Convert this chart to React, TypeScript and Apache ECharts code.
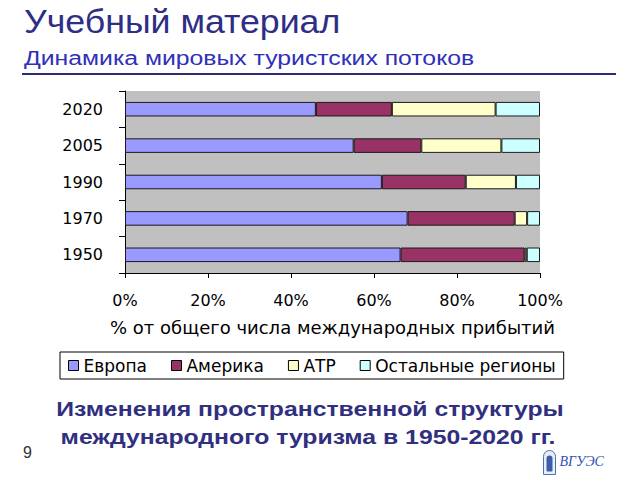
import React, { useEffect, useRef } from "react";
import * as echarts from "echarts";

const years = ["1950", "1970", "1990", "2005", "2020"];
const seriesNames = ["Европа", "Америка", "АТР", "Остальные регионы"];
const europe = [66.4, 68.1, 61.9, 55.1, 46.0];
const america = [29.9, 25.8, 20.2, 16.3, 18.3];
const apac = [0.5, 3.0, 12.1, 19.3, 25.0];
const others = [3.2, 3.1, 5.8, 9.3, 10.7];
const colors = ["#9999FF", "#993366", "#FFFFCC", "#CCFFFF"];

const titleText = "Учебный материал";
const subtitleText = "Динамика мировых туристских потоков";
const xAxisName = "% от общего числа международных прибытий";
const captionLine1 = "Изменения пространственной структуры";
const captionLine2 = "международного туризма в 1950-2020 гг.";
const pageNumber = "9";

export default function App() {
  const ref = useRef<HTMLDivElement>(null);
  useEffect(() => {
    if (!ref.current) return;
    const chart = echarts.init(ref.current, undefined, { renderer: "svg" });
    const values = [europe, america, apac, others];
    const axisFont = "'DejaVu Sans', sans-serif";
    const sans = "'Liberation Sans', Arial, sans-serif";
    chart.setOption({
      animation: false,
      backgroundColor: "#ffffff",
      grid: {
        left: 125,
        top: 91,
        width: 415,
        height: 182,
        show: true,
        backgroundColor: "#C0C0C0",
        borderWidth: 0,
      },
      xAxis: {
        type: "value",
        min: 0,
        max: 100,
        interval: 20,
        splitLine: { show: false },
        axisLine: { show: true, lineStyle: { color: "#000", width: 1 } },
        axisTick: { show: true, length: 5, lineStyle: { color: "#000" } },
        axisLabel: {
          formatter: "{value}%",
          fontFamily: axisFont,
          fontSize: 16,
          color: "#000",
          margin: 19,
        },
        name: xAxisName,
        nameLocation: "middle",
        nameGap: 45,
        nameTextStyle: { fontFamily: axisFont, fontSize: 18, color: "#000" },
      },
      yAxis: {
        type: "category",
        data: years,
        axisLine: { show: true, lineStyle: { color: "#000", width: 1 } },
        axisTick: { show: true, length: 6, lineStyle: { color: "#000" } },
        axisLabel: {
          fontFamily: axisFont,
          fontSize: 16,
          color: "#000",
          margin: 22,
        },
        splitLine: { show: false },
      },
      legend: {
        left: 60,
        top: 352,
        data: seriesNames,
        icon: "rect",
        itemWidth: 10,
        itemHeight: 10,
        itemGap: 24,
        backgroundColor: "#ffffff",
        borderColor: "#000",
        borderWidth: 1,
        borderRadius: 0,
        padding: [5, 8, 5, 8],
        itemStyle: { borderColor: "#000", borderWidth: 1 },
        textStyle: { fontFamily: axisFont, fontSize: 17, color: "#000", lineHeight: 17 },
      },
      series: seriesNames.map((name, i) => ({
        name,
        type: "bar",
        stack: "total",
        barWidth: "40%",
        data: values[i],
        itemStyle: { color: colors[i], borderColor: "#1a1a1a", borderWidth: 1 },
      })),
      graphic: [
        {
          type: "text",
          x: 24,
          y: 4,
          scaleX: 1.05,
          style: {
            text: titleText,
            fontFamily: sans,
            fontSize: 34,
            fill: "#2E2E85",
          },
        },
        {
          type: "text",
          x: 24,
          y: 47,
          scaleX: 1.18,
          style: {
            text: subtitleText,
            fontFamily: sans,
            fontSize: 21,
            fill: "#3030B8",
          },
        },
        {
          type: "line",
          shape: { x1: 22, y1: 74, x2: 616, y2: 74 },
          style: { stroke: "#2A2A78", lineWidth: 2 },
        },
        {
          type: "text",
          x: 310,
          y: 409,
          scaleX: 1.18,
          style: {
            text: captionLine1,
            fontFamily: sans,
            fontWeight: "bold",
            fontSize: 21,
            fill: "#30307F",
            align: "center",
            verticalAlign: "middle",
          },
        },
        {
          type: "text",
          x: 308,
          y: 437,
          scaleX: 1.18,
          style: {
            text: captionLine2,
            fontFamily: sans,
            fontWeight: "bold",
            fontSize: 21,
            fill: "#30307F",
            align: "center",
            verticalAlign: "middle",
          },
        },
        {
          type: "text",
          left: 23,
          top: 444,
          style: {
            text: pageNumber,
            fontFamily: sans,
            fontSize: 16,
            fill: "#333333",
          },
        },
        {
          type: "group",
          left: 543,
          top: 450,
          children: [
            {
              type: "rect",
              shape: { x: 0, y: 0, width: 12, height: 24, r: [6, 6, 0, 0] },
              style: { fill: "#E8EEF8", stroke: "#5070B0", lineWidth: 1 },
            },
            {
              type: "rect",
              shape: { x: 3, y: 5, width: 6, height: 16, r: [3, 3, 1, 1] },
              style: { fill: "#3A5FA8" },
            },
            {
              type: "text",
              x: 16,
              y: 4,
              style: {
                text: "ВГУЭС",
                fontFamily: "'Liberation Serif', serif",
                fontStyle: "italic",
                fontSize: 14,
                fill: "#2F55B0",
              },
            },
          ],
        },
      ],
    });
    return () => chart.dispose();
  }, []);
  return (
    <div
      ref={ref}
      style={{ position: "fixed", left: 0, top: 0, width: 640, height: 480 }}
    />
  );
}
